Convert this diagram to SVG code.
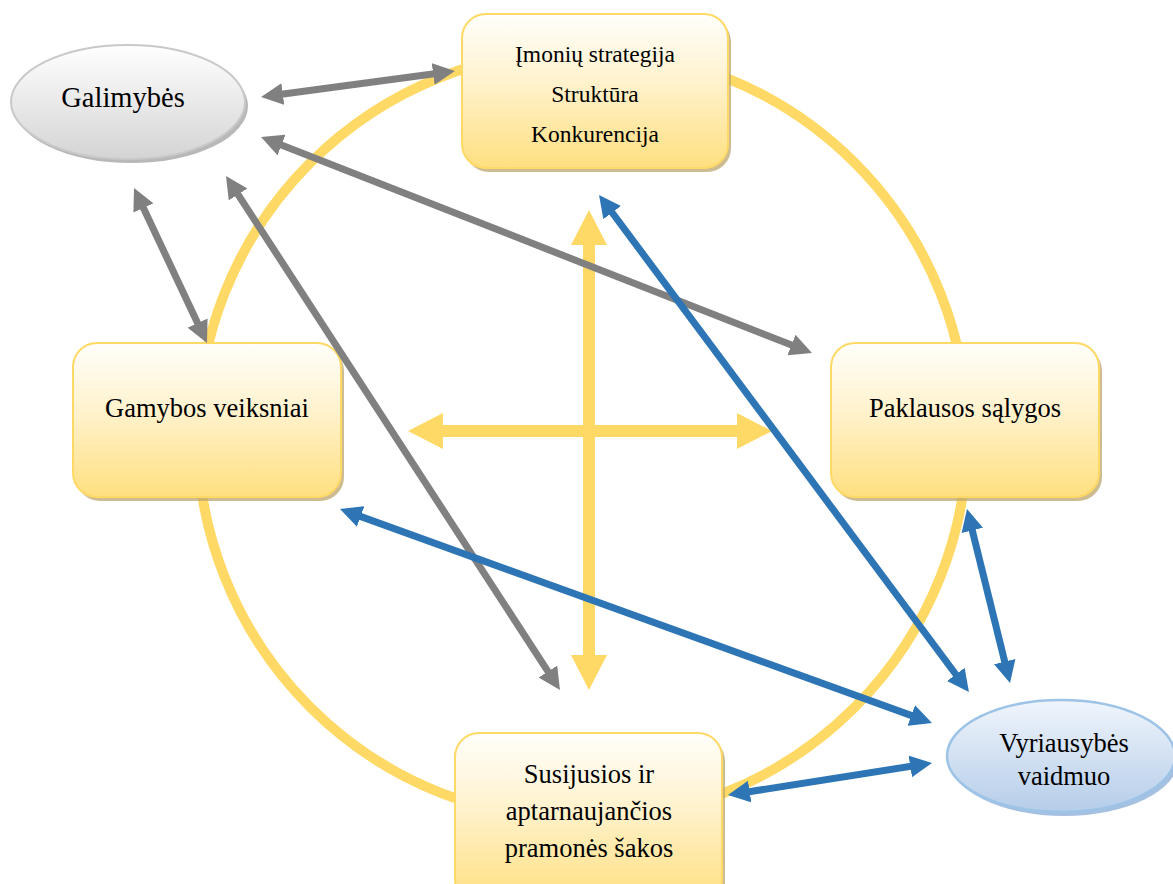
<svg xmlns="http://www.w3.org/2000/svg" width="1173" height="884" viewBox="0 0 1173 884">
<defs>
<linearGradient id="gY" x1="0" y1="0" x2="0" y2="1">
<stop offset="0" stop-color="#fffefb"/>
<stop offset="0.45" stop-color="#fff2cc"/>
<stop offset="1" stop-color="#ffdf7f"/>
</linearGradient>
<linearGradient id="gG" x1="0" y1="0" x2="0" y2="1">
<stop offset="0" stop-color="#ffffff"/>
<stop offset="1" stop-color="#d4d4d4"/>
</linearGradient>
<linearGradient id="gB" x1="0" y1="0" x2="0" y2="1">
<stop offset="0" stop-color="#f0f5fc"/>
<stop offset="1" stop-color="#b5cde9"/>
</linearGradient>
<marker id="aGray" markerUnits="userSpaceOnUse" markerWidth="22" markerHeight="22" refX="7" refY="11" orient="auto-start-reverse">
<path d="M0,0 L22,11 L0,22 z" fill="#808080"/>
</marker>
<marker id="aBlue" markerUnits="userSpaceOnUse" markerWidth="22" markerHeight="22" refX="7" refY="11" orient="auto-start-reverse">
<path d="M0,0 L22,11 L0,22 z" fill="#2e75b6"/>
</marker>
<marker id="aYel" markerUnits="userSpaceOnUse" markerWidth="35" markerHeight="36" refX="10" refY="18" orient="auto-start-reverse">
<path d="M0,0 L35,18 L0,36 z" fill="#ffd966"/>
</marker>
</defs>
<style>
.box{fill:url(#gY);stroke:#ffd966;stroke-width:2}
.shY{fill:#bca66e;opacity:0.75}
.shG{fill:#a6a6a6;opacity:0.8}
.shB{fill:#8fb0d8;opacity:0.8}
.t{font-family:"Liberation Serif","Times New Roman",serif;fill:#000;text-anchor:middle}
.gray{stroke:#808080;stroke-width:7;fill:none;marker-start:url(#aGray);marker-end:url(#aGray)}
.blue{stroke:#2e75b6;stroke-width:7;fill:none;marker-start:url(#aBlue);marker-end:url(#aBlue)}
.yel{stroke:#ffd966;stroke-width:12;fill:none;marker-start:url(#aYel);marker-end:url(#aYel)}
</style>
<rect width="1173" height="884" fill="#ffffff"/>
<circle id="ring" cx="582.5" cy="435" r="385" fill="none" stroke="#ffd966" stroke-width="10"/>
<g id="cross">
<line class="yel" x1="589" y1="235" x2="589" y2="665"/>
<line class="yel" x1="433" y1="431" x2="747" y2="431"/>
</g>
<g id="node-imoniu">
<rect class="shY" x="465" y="18" width="266" height="154" rx="24"/>
<rect class="box" x="462" y="14" width="266" height="154" rx="24"/>
<text class="t" font-size="23.5" x="595" y="62">Įmonių strategija</text>
<text class="t" font-size="23.5" x="595" y="102">Struktūra</text>
<text class="t" font-size="23.5" x="595" y="142">Konkurencija</text>
</g>
<g id="node-paklausos">
<rect class="shY" x="834" y="347" width="268" height="154" rx="24"/>
<rect class="box" x="831" y="343" width="268" height="154" rx="24"/>
<text class="t" font-size="26.5" x="965" y="417">Paklausos sąlygos</text>
</g>
<g id="node-gamybos">
<rect class="shY" x="76" y="347" width="268" height="154" rx="24"/>
<rect class="box" x="73" y="343" width="268" height="154" rx="24"/>
<text class="t" font-size="26.5" x="207" y="417">Gamybos veiksniai</text>
</g>
<g id="node-susijusios">
<rect class="shY" x="458" y="737" width="267" height="170" rx="24"/>
<rect class="box" x="455" y="733" width="267" height="170" rx="24"/>
<text class="t" font-size="26.5" x="589" y="783">Susijusios ir</text>
<text class="t" font-size="26.5" x="589" y="820">aptarnaujančios</text>
<text class="t" font-size="26.5" x="589" y="857">pramonės šakos</text>
</g>
<g id="node-galimybes">
<ellipse class="shG" cx="131" cy="106" rx="117" ry="57"/>
<ellipse cx="128" cy="102" rx="117" ry="57" fill="url(#gG)" stroke="#c9c9c9" stroke-width="2"/>
<text class="t" font-size="28.5" x="123" y="107">Galimybės</text>
</g>
<g id="node-vyriausybes">
<ellipse class="shB" cx="1064" cy="760" rx="114" ry="56"/>
<ellipse cx="1061" cy="756" rx="114" ry="56" fill="url(#gB)" stroke="#9dc3e6" stroke-width="2.5"/>
<text class="t" font-size="26.5" x="1064" y="752">Vyriausybės</text>
<text class="t" font-size="26.5" x="1064" y="785">vaidmuo</text>
</g>
<g id="connectors">
<line class="gray" x1="275.9" y1="95.0" x2="440.1" y2="73.0"/>
<line class="gray" x1="275.0" y1="142.5" x2="798.0" y2="347.5"/>
<line class="gray" x1="140.4" y1="201.6" x2="200.6" y2="329.4"/>
<line class="gray" x1="234.2" y1="188.6" x2="551.8" y2="677.4"/>
<line class="blue" x1="608.0" y1="207.0" x2="960.0" y2="680.0"/>
<line class="blue" x1="354.1" y1="514.1" x2="917.9" y2="717.9"/>
<line class="blue" x1="970.6" y1="523.6" x2="1006.4" y2="668.4"/>
<line class="blue" x1="742.8" y1="792.7" x2="917.2" y2="765.3"/>
</g>
</svg>
